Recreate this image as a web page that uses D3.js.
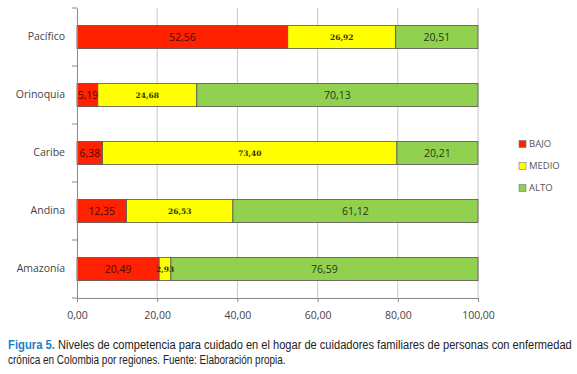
<!DOCTYPE html>
<html>
<head>
<meta charset="utf-8">
<script src="https://cdn.jsdelivr.net/npm/d3@7"></script>
<style>
    body { margin: 0; background: #fff; }
    svg { display: block; }
</style>
</head>
<body>
<svg width="577" height="374"></svg>
<script>
const regions = ["Pacífico", "Orinoquia", "Caribe", "Andina", "Amazonía"];
const levels = ["BAJO", "MEDIO", "ALTO"];
const bajo = [52.56, 5.19, 6.38, 12.35, 20.49];
const medio = [26.92, 24.68, 73.40, 26.53, 2.93];
const alto = [20.51, 70.13, 20.21, 61.12, 76.59];
const xTicks = [0, 20, 40, 60, 80, 100];

const colors = { BAJO: "#ff2200", MEDIO: "#ffff00", ALTO: "#92d050" };
const labelColor = { BAJO: "#4a0a00", MEDIO: "#333300", ALTO: "#1e3a10" };

const margin = { top: 8, left: 77 },
    width = 478 - 77,
    height = 298 - 8;

const svg = d3.select("svg");
const g = svg.append("g")
    .attr("transform", "translate(" + margin.left + "," + margin.top + ")");

const x = d3.scaleLinear().domain([0, 100]).range([0, width]);
const y = d3.scaleBand().domain(regions).range([0, height]).paddingInner(0.6).paddingOuter(0.3);

// build stacked rows
const rows = regions.map((r, i) => ({ region: r, BAJO: bajo[i], MEDIO: medio[i], ALTO: alto[i] }));
const stack = d3.stack().keys(levels)(rows);
const segs = [];
stack.forEach(s => s.forEach(v => segs.push({ key: s.key, x0: v[0], x1: v[1], region: v.data.region })));

// gridlines
g.selectAll(".grid")
    .data(xTicks.slice(1))
    .enter().append("line")
    .attr("x1", d => x(d)).attr("x2", d => x(d))
    .attr("y1", 0).attr("y2", height)
    .attr("stroke", "#c8c8c8").attr("stroke-width", 1);

// bars
g.selectAll(".seg")
    .data(segs)
    .enter().append("rect")
    .attr("x", d => x(d.x0))
    .attr("width", d => x(d.x1) - x(d.x0))
    .attr("y", d => y(d.region))
    .attr("height", y.bandwidth())
    .attr("fill", d => colors[d.key])
    .attr("stroke", "#555")
    .attr("stroke-width", 0.8);

// value labels, drawn on top of all bars
g.selectAll(".lbl")
    .data(segs)
    .enter().append("text")
    .attr("x", d => {
        let w = x(d.x1) - x(d.x0);
        if (d.key === "BAJO" && w < 25) return x(d.x0) + 11;
        return (x(d.x0) + x(d.x1)) / 2;
    })
    .attr("y", d => y(d.region) + y.bandwidth() / 2)
    .attr("dy", "0.36em")
    .attr("text-anchor", "middle")
    .attr("fill", d => labelColor[d.key])
    .style("font-family", d => d.key === "MEDIO" ? "'DejaVu Serif', serif" : "'Open Sans', sans-serif")
    .style("font-weight", d => d.key === "MEDIO" ? "bold" : "normal")
    .style("font-size", d => d.key === "MEDIO" ? "7.5px" : "10.5px")
    .text(d => d3.format(".2f")(d.x1 - d.x0).replace(".", ","));

// axes
const xAxis = g.append("g")
    .attr("transform", "translate(0," + height + ")")
    .call(d3.axisBottom(x).tickValues(xTicks).tickSize(4).tickPadding(10)
        .tickFormat(d => d3.format(".2f")(d).replace(".", ",")));
xAxis.select(".domain").attr("stroke", "#888");
xAxis.selectAll(".tick line").attr("stroke", "#888");
xAxis.selectAll("text")
    .attr("fill", "#444")
    .style("font-family", "'Open Sans', sans-serif")
    .style("font-size", "10.5px");

const yAxis = g.append("g")
    .call(d3.axisLeft(y).tickSize(0).tickPadding(12));
yAxis.select(".domain").attr("stroke", "#888");
yAxis.selectAll("text")
    .attr("fill", "#444")
    .style("font-family", "'Open Sans', sans-serif")
    .style("font-size", "10.5px");

// category boundary ticks
const step = y.step();
g.selectAll(".ytick")
    .data(d3.range(regions.length + 1))
    .enter().append("line")
    .attr("x1", -5).attr("x2", 0)
    .attr("y1", i => i * step).attr("y2", i => i * step)
    .attr("stroke", "#888");

// legend
const legend = svg.append("g").attr("transform", "translate(519,144)");
levels.forEach((k, i) => {
    const row = legend.append("g").attr("transform", "translate(0," + i * 22 + ")");
    row.append("rect")
        .attr("x", 0).attr("y", -3.5)
        .attr("width", 7).attr("height", 7)
        .attr("fill", colors[k]).attr("stroke", "#777").attr("stroke-width", 0.6);
    row.append("text")
        .attr("x", 10).attr("y", 0).attr("dy", "0.36em")
        .attr("fill", "#555")
        .style("font-family", "'Open Sans', sans-serif")
        .style("font-size", "9.5px")
        .text(k);
});

// caption: squeeze each line horizontally to the reference width
const capFont = "'Liberation Sans Narrow', 'Liberation Sans', sans-serif";
function capLine(str, x0, y0, w, color, bold) {
    const t = svg.append("text")
        .attr("x", 0).attr("y", 0)
        .style("font-family", capFont)
        .style("font-size", "12px")
        .attr("font-weight", bold ? "bold" : "normal")
        .attr("fill", color)
        .text(str);
    const k = w / t.node().getComputedTextLength();
    t.attr("transform", "translate(" + x0 + "," + y0 + ") scale(" + k + ",1)");
}
capLine("Figura 5.", 8, 349, 47, "#1e7fc4", true);
capLine("Niveles de competencia para cuidado en el hogar de cuidadores familiares de personas con enfermedad", 58, 349, 514, "#222", false);
capLine("crónica en Colombia por regiones. Fuente: Elaboración propia.", 8, 364, 278, "#222", false);
</script>
</body>
</html>
